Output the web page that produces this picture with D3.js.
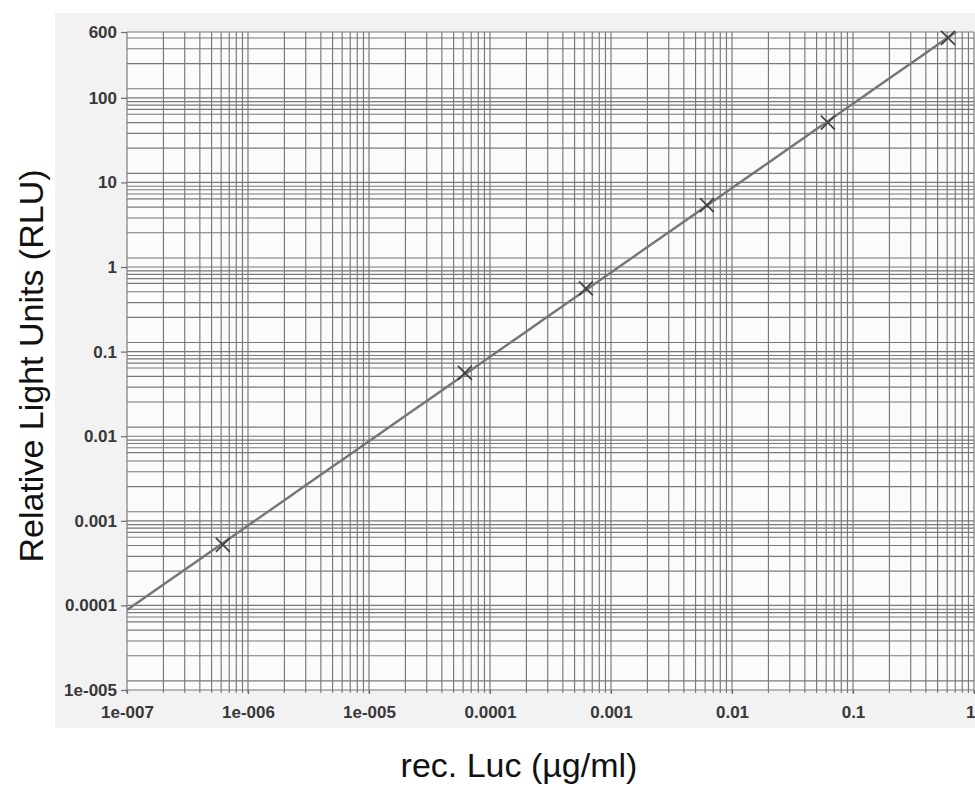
<!DOCTYPE html>
<html>
<head>
<meta charset="utf-8">
<script src="https://cdn.jsdelivr.net/npm/d3@7"></script>
<style>
  body { margin: 0; background: #fff; }
  svg { display: block; font-family: 'Liberation Sans', Arial, sans-serif; }
</style>
</head>
<body>
<svg></svg>
<script>
// data
const concentrations = [6.2e-7, 6.2e-5, 6.2e-4, 6.2e-3, 6.2e-2, 0.61];
const rluValues = [0.00052, 0.056, 0.56, 5.4, 51, 510];

const xTickValues = [1e-7, 1e-6, 1e-5, 1e-4, 1e-3, 1e-2, 1e-1, 1];
const xTickLabels = ['1e-007', '1e-006', '1e-005', '0.0001', '0.001', '0.01', '0.1', '1'];
const yTickValues = [600, 100, 10, 1, 0.1, 0.01, 0.001, 0.0001, 0.00001];
const yTickLabels = ['600', '100', '10', '1', '0.1', '0.01', '0.001', '0.0001', '1e-005'];

// graph paper lines inside each decade
const xGridMultipliers = [1, 2, 3, 4, 5, 6, 7, 8, 9];
const yGridMultipliers = [1, 0.9, 0.82, 0.73, 0.64, 0.51, 0.38, 0.254, 0.128];

const width = 975;
const height = 787;
const plotLeft = 127;
const plotRight = 974;
const plotTop = 32;
const plotBottom = 690;

const canvas = d3.select('svg')
                 .attr('width', width)
                 .attr('height', height);

const xScale = d3.scaleLog()
                 .domain([1e-7, 1])
                 .range([plotLeft, plotRight]);

const yScale = d3.scaleLog()
                 .domain([1e-5, 600])
                 .range([plotBottom, plotTop]);

// scanned paper background
canvas.append('rect')
      .attr('x', 55)
      .attr('y', 13)
      .attr('width', width - 55)
      .attr('height', 715)
      .attr('fill', '#f2f2f2');

canvas.append('rect')
      .attr('x', plotLeft)
      .attr('y', plotTop)
      .attr('width', plotRight - plotLeft)
      .attr('height', plotBottom - plotTop)
      .attr('fill', '#fbfbfb');

const xGrid = [];
for (let e = -7; e < 0; e++) {
  xGridMultipliers.forEach(m => xGrid.push(m * Math.pow(10, e)));
}
xGrid.push(1);

const yGrid = [];
for (let e = -4; e <= 3; e++) {
  yGridMultipliers.forEach(m => {
    const v = m * Math.pow(10, e);
    if (v >= 1e-5 && v <= 600) yGrid.push(v);
  });
}
yGrid.push(1e-5, 600);

const grid = canvas.append('g')
                   .attr('stroke', '#787878')
                   .attr('stroke-width', 1.15);

grid.selectAll('.vgrid')
    .data(xGrid)
    .enter()
    .append('line')
    .attr('class', 'vgrid')
    .attr('x1', d => xScale(d))
    .attr('x2', d => xScale(d))
    .attr('y1', plotTop)
    .attr('y2', plotBottom + 3);

grid.selectAll('.hgrid')
    .data(yGrid)
    .enter()
    .append('line')
    .attr('class', 'hgrid')
    .attr('x1', plotLeft)
    .attr('x2', plotRight)
    .attr('y1', d => yScale(d))
    .attr('y2', d => yScale(d));

// axes: short ticks plus labels
const yAxis = d3.axisLeft(yScale)
                .tickValues(yTickValues)
                .tickFormat((d, i) => yTickLabels[i])
                .tickSize(6)
                .tickPadding(4);

const xAxis = d3.axisBottom(xScale)
                .tickValues(xTickValues)
                .tickFormat((d, i) => xTickLabels[i])
                .tickSize(4)
                .tickPadding(12);

const styleAxis = g => {
  g.select('.domain').remove();
  g.selectAll('.tick line').attr('stroke', '#6d6d6d').attr('stroke-width', 1.2);
  g.selectAll('.tick text')
   .attr('fill', '#383838')
   .style('font-size', '17px')
   .style('font-weight', 'bold')
   .style('font-family', "'Liberation Sans', Arial, sans-serif");
};

canvas.append('g')
      .attr('id', 'y-axis')
      .attr('transform', `translate(${plotLeft}, 0)`)
      .call(yAxis)
      .call(styleAxis);

const xAxisG = canvas.append('g')
                     .attr('id', 'x-axis')
                     .attr('transform', `translate(0, ${plotBottom})`)
                     .call(xAxis)
                     .call(styleAxis);

// last label sits on the page edge, keep it inside
xAxisG.selectAll('.tick text')
      .filter(d => d === 1)
      .attr('text-anchor', 'end')
      .attr('dx', 1);

// fitted power law through the points (least squares in log space)
const lx = concentrations.map(Math.log10);
const ly = rluValues.map(Math.log10);
const mx = d3.mean(lx);
const my = d3.mean(ly);
const slope = d3.sum(lx.map((v, i) => (v - mx) * (ly[i] - my))) / d3.sum(lx.map(v => (v - mx) * (v - mx)));
const intercept = my - slope * mx;
const fit = x => Math.pow(10, intercept + slope * Math.log10(x));

canvas.append('clipPath')
      .attr('id', 'plot-clip')
      .append('rect')
      .attr('x', plotLeft)
      .attr('y', plotTop)
      .attr('width', plotRight - plotLeft)
      .attr('height', plotBottom - plotTop);

const fitX = xScale.ticks(60).filter(d => d >= 1e-7 && d <= 1);
const line = d3.line()
               .x(d => xScale(d))
               .y(d => yScale(fit(d)));

canvas.append('path')
      .datum(fitX)
      .attr('clip-path', 'url(#plot-clip)')
      .attr('d', line)
      .attr('fill', 'none')
      .attr('stroke', '#757575')
      .attr('stroke-width', 2.4);

// cross markers
const markerSize = 7;
const markers = canvas.append('g')
                      .attr('stroke', '#424242')
                      .attr('stroke-width', 1.7);

markers.selectAll('path')
       .data(concentrations.map((c, i) => ({ c, r: rluValues[i] })))
       .enter()
       .append('path')
       .attr('d', d => {
         const x = xScale(d.c);
         const y = yScale(d.r);
         return `M${x - markerSize},${y - markerSize}L${x + markerSize},${y + markerSize}` +
                `M${x - markerSize},${y + markerSize}L${x + markerSize},${y - markerSize}`;
       });

// axis titles
canvas.append('text')
      .attr('x', 519)
      .attr('y', 777)
      .attr('text-anchor', 'middle')
      .attr('fill', '#111')
      .style('font-size', '34px')
      .text('rec. Luc (µg/ml)');

canvas.append('text')
      .attr('transform', 'translate(43, 366) rotate(-90)')
      .attr('text-anchor', 'middle')
      .attr('fill', '#111')
      .style('font-size', '34px')
      .text('Relative Light Units (RLU)');
</script>
</body>
</html>
